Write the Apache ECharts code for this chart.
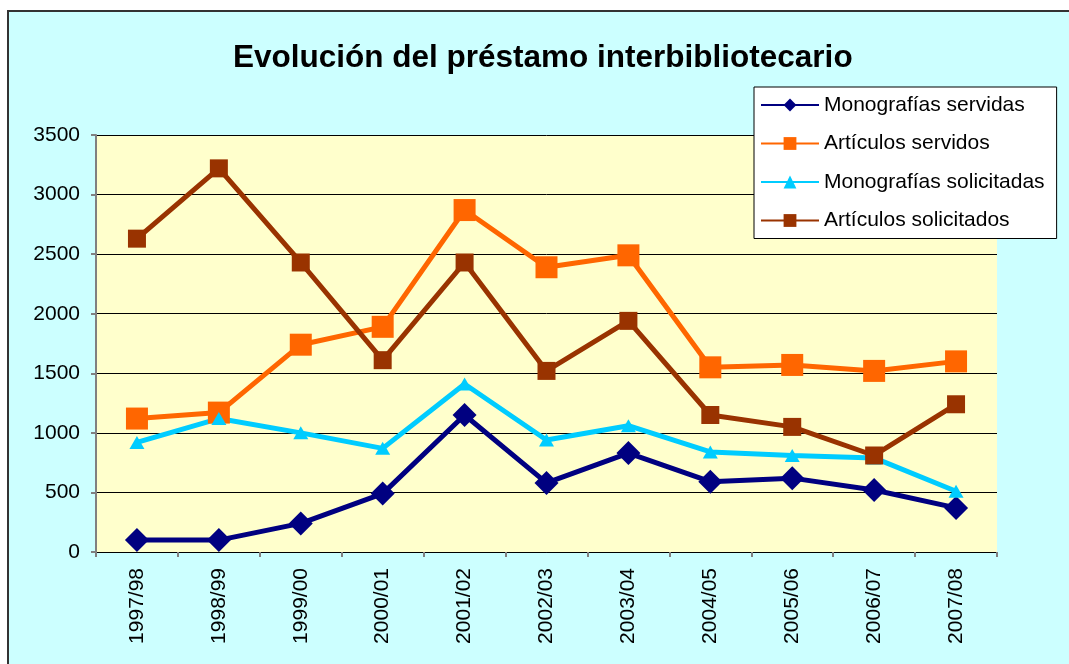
<!DOCTYPE html>
<html>
<head>
<meta charset="utf-8">
<script src="https://cdn.jsdelivr.net/npm/echarts@6/dist/echarts.min.js"></script>
<style>
body { margin: 0; background: #fff; }
#chart { width: 1069px; height: 664px; }
</style>
</head>
<body>
<div id="chart"></div>
<script>
// cursos académicos
const categories = ['1997/98', '1998/99', '1999/00', '2000/01', '2001/02', '2002/03', '2003/04', '2004/05', '2005/06', '2006/07', '2007/08']
const monoServidas = [100, 100, 240, 490, 1150, 580, 830, 590, 620, 520, 370]
const artServidos = [1120, 1170, 1740, 1890, 2870, 2390, 2490, 1550, 1570, 1520, 1600]
const monoSolicitadas = [920, 1120, 1000, 870, 1410, 940, 1060, 840, 810, 790, 510]
const artSolicitados = [2630, 3220, 2430, 1610, 2430, 1520, 1940, 1150, 1050, 810, 1240]
const yTicks = [0, 500, 1000, 1500, 2000, 2500, 3000, 3500]

const font = '"Liberation Sans", Arial, sans-serif'

let chart = echarts.init(document.getElementById('chart'))

function serie (name, data, color, symbol, size) {
  return {
    name: name,
    type: 'line',
    data: data,
    symbol: symbol,
    symbolSize: size,
    showAllSymbol: true,
    lineStyle: { color: color, width: 5 },
    itemStyle: { color: color },
    emphasis: { disabled: true },
    animation: false
  }
}

let option = {
  backgroundColor: '#ffffff',
  animation: false,
  graphic: [{
    type: 'rect',
    z: -10,
    silent: true,
    shape: { x: 8, y: 11, width: 1100, height: 700 },
    style: { fill: '#CCFFFF', stroke: '#333333', lineWidth: 2 }
  }],
  title: {
    text: 'Evolución del préstamo interbibliotecario',
    left: 228,
    top: 37,
    textStyle: { fontFamily: font, fontSize: 31.5, fontWeight: 'bold', color: '#000' }
  },
  legend: {
    orient: 'vertical',
    left: 754,
    top: 87,
    padding: [6, 12, 6, 6],
    backgroundColor: '#ffffff',
    borderColor: '#000000',
    borderWidth: 1,
    itemWidth: 58,
    itemHeight: 16,
    itemGap: 14.5,
    textStyle: { fontFamily: font, fontSize: 21, color: '#000', lineHeight: 24 },
    data: ['Monografías servidas', 'Artículos servidos', 'Monografías solicitadas', 'Artículos solicitados']
  },
  grid: {
    left: 96,
    top: 135,
    right: 72,
    bottom: 112,
    show: true,
    backgroundColor: '#FFFFCC',
    borderWidth: 0
  },
  xAxis: {
    type: 'category',
    data: categories,
    boundaryGap: true,
    axisLine: { lineStyle: { color: '#000', width: 1 } },
    axisTick: { show: true, length: 5, lineStyle: { color: '#808080', width: 2 } },
    axisLabel: { rotate: 90, margin: 16, fontFamily: font, fontSize: 21, color: '#000' }
  },
  yAxis: {
    type: 'value',
    min: 0,
    max: 3500,
    interval: 500,
    axisLine: { show: true, lineStyle: { color: '#808080', width: 2 } },
    axisTick: { show: true, length: 5, lineStyle: { color: '#808080', width: 2 } },
    splitLine: { show: true, lineStyle: { color: '#000', width: 1 } },
    axisLabel: {
      margin: 16,
      fontFamily: font,
      fontSize: 21,
      color: '#000',
      formatter: v => yTicks.includes(v) ? String(v) : ''
    }
  },
  series: [
    serie('Monografías servidas', monoServidas, '#000080', 'diamond', 24),
    serie('Artículos servidos', artServidos, '#FF6600', 'rect', 22),
    serie('Monografías solicitadas', monoSolicitadas, '#00CCFF', 'triangle', [15, 13]),
    serie('Artículos solicitados', artSolicitados, '#993300', 'rect', 18)
  ]
}

chart.setOption(option)
</script>
</body>
</html>
